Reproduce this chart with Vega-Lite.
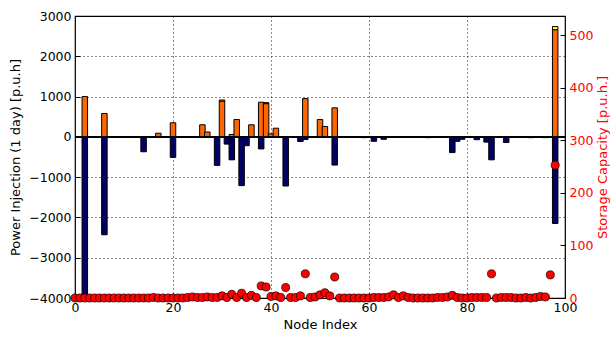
{
  "$schema": "https://vega.github.io/schema/vega-lite/v6.json",
  "width": 490,
  "height": 282,
  "autosize": "none",
  "padding": {"left": 75, "top": 16, "right": 45, "bottom": 39},
  "config": {
    "font": "DejaVu Sans",
    "view": {"stroke": "black", "strokeWidth": 1.2},
    "axis": {
      "domain": false,
      "labelFontSize": 12.5,
      "labelColor": "black",
      "titleFontSize": 13,
      "titleFontWeight": "normal",
      "titleColor": "black",
      "tickColor": "black",
      "tickSize": -5,
      "gridColor": "black",
      "gridDash": [1, 3],
      "gridOpacity": 0.9
    }
  },
  "datasets": {
    "bars": [
      {"node": 2, "kind": "Generation", "value": 1000},
      {"node": 6, "kind": "Generation", "value": 580},
      {"node": 17, "kind": "Generation", "value": 90},
      {"node": 20, "kind": "Generation", "value": 350},
      {"node": 26, "kind": "Generation", "value": 300},
      {"node": 27, "kind": "Generation", "value": 120},
      {"node": 30, "kind": "Generation", "value": 890},
      {"node": 30, "kind": "Surplus", "value": 25},
      {"node": 32, "kind": "Generation", "value": 60},
      {"node": 33, "kind": "Generation", "value": 430},
      {"node": 36, "kind": "Generation", "value": 300},
      {"node": 38, "kind": "Generation", "value": 860},
      {"node": 39, "kind": "Generation", "value": 825},
      {"node": 39, "kind": "Surplus", "value": 25},
      {"node": 40, "kind": "Generation", "value": 75},
      {"node": 41, "kind": "Generation", "value": 215},
      {"node": 47, "kind": "Generation", "value": 950},
      {"node": 50, "kind": "Generation", "value": 430},
      {"node": 51, "kind": "Generation", "value": 257},
      {"node": 53, "kind": "Generation", "value": 720},
      {"node": 98, "kind": "Generation", "value": 2660},
      {"node": 98, "kind": "Surplus", "value": 80},
      {"node": 2, "kind": "Load", "value": -3950},
      {"node": 6, "kind": "Load", "value": -2430},
      {"node": 14, "kind": "Load", "value": -370},
      {"node": 20, "kind": "Load", "value": -510},
      {"node": 29, "kind": "Load", "value": -708},
      {"node": 31, "kind": "Load", "value": -180},
      {"node": 32, "kind": "Load", "value": -570},
      {"node": 34, "kind": "Load", "value": -1210},
      {"node": 35, "kind": "Load", "value": -220},
      {"node": 38, "kind": "Load", "value": -300},
      {"node": 43, "kind": "Load", "value": -1220},
      {"node": 46, "kind": "Load", "value": -115},
      {"node": 47, "kind": "Load", "value": -65},
      {"node": 53, "kind": "Load", "value": -700},
      {"node": 59, "kind": "Load", "value": -20},
      {"node": 61, "kind": "Load", "value": -110},
      {"node": 63, "kind": "Load", "value": -60},
      {"node": 72, "kind": "Load", "value": -20},
      {"node": 77, "kind": "Load", "value": -390},
      {"node": 78, "kind": "Load", "value": -110},
      {"node": 79, "kind": "Load", "value": -60},
      {"node": 82, "kind": "Load", "value": -70},
      {"node": 84, "kind": "Load", "value": -130},
      {"node": 85, "kind": "Load", "value": -570},
      {"node": 88, "kind": "Load", "value": -140},
      {"node": 93, "kind": "Load", "value": -20},
      {"node": 96, "kind": "Load", "value": -20},
      {"node": 98, "kind": "Load", "value": -2150}
    ],
    "store": [
      {"node": 0, "cap": 0}, {"node": 1, "cap": 0}, {"node": 2, "cap": 0}, {"node": 3, "cap": 0},
      {"node": 4, "cap": 0}, {"node": 5, "cap": 0}, {"node": 6, "cap": 0}, {"node": 7, "cap": 0},
      {"node": 8, "cap": 0}, {"node": 9, "cap": 0}, {"node": 10, "cap": 0}, {"node": 11, "cap": 0},
      {"node": 12, "cap": 0}, {"node": 13, "cap": 0}, {"node": 14, "cap": 0}, {"node": 15, "cap": 0},
      {"node": 16, "cap": 1}, {"node": 17, "cap": 0}, {"node": 18, "cap": 0}, {"node": 19, "cap": 0},
      {"node": 20, "cap": 0}, {"node": 21, "cap": 0}, {"node": 22, "cap": 0}, {"node": 23, "cap": 1},
      {"node": 24, "cap": 2}, {"node": 25, "cap": 1}, {"node": 26, "cap": 1}, {"node": 27, "cap": 2},
      {"node": 28, "cap": 1}, {"node": 29, "cap": 1}, {"node": 30, "cap": 4}, {"node": 31, "cap": 1},
      {"node": 32, "cap": 7}, {"node": 33, "cap": 1}, {"node": 34, "cap": 9}, {"node": 35, "cap": 1},
      {"node": 36, "cap": 5}, {"node": 37, "cap": 1}, {"node": 38, "cap": 23}, {"node": 39, "cap": 21},
      {"node": 40, "cap": 3}, {"node": 41, "cap": 4}, {"node": 42, "cap": 1}, {"node": 43, "cap": 20},
      {"node": 44, "cap": 1}, {"node": 45, "cap": 1}, {"node": 46, "cap": 4}, {"node": 47, "cap": 46},
      {"node": 48, "cap": 1}, {"node": 49, "cap": 2}, {"node": 50, "cap": 6}, {"node": 51, "cap": 10},
      {"node": 52, "cap": 4}, {"node": 53, "cap": 40}, {"node": 54, "cap": 0}, {"node": 55, "cap": 0},
      {"node": 56, "cap": 0}, {"node": 57, "cap": 0}, {"node": 58, "cap": 0}, {"node": 59, "cap": 0},
      {"node": 60, "cap": 0}, {"node": 61, "cap": 1}, {"node": 62, "cap": 1}, {"node": 63, "cap": 1},
      {"node": 64, "cap": 2}, {"node": 65, "cap": 6}, {"node": 66, "cap": 1}, {"node": 67, "cap": 4},
      {"node": 68, "cap": 1}, {"node": 69, "cap": 0}, {"node": 70, "cap": 0}, {"node": 71, "cap": 0},
      {"node": 72, "cap": 0}, {"node": 73, "cap": 0}, {"node": 74, "cap": 1}, {"node": 75, "cap": 1},
      {"node": 76, "cap": 2}, {"node": 77, "cap": 5}, {"node": 78, "cap": 1}, {"node": 79, "cap": 0},
      {"node": 80, "cap": 0}, {"node": 81, "cap": 1}, {"node": 82, "cap": 1}, {"node": 83, "cap": 1},
      {"node": 84, "cap": 1}, {"node": 85, "cap": 46}, {"node": 86, "cap": 0}, {"node": 87, "cap": 1},
      {"node": 88, "cap": 1}, {"node": 89, "cap": 1}, {"node": 90, "cap": 0}, {"node": 91, "cap": 0},
      {"node": 92, "cap": 1}, {"node": 93, "cap": 0}, {"node": 94, "cap": 1}, {"node": 95, "cap": 3},
      {"node": 96, "cap": 2}, {"node": 97, "cap": 44}, {"node": 98, "cap": 253}
    ]
  },
  "layer": [
    {
      "data": {"name": "bars"},
      "layer": [
        {
          "mark": {"type": "bar", "size": 5.5, "stroke": "black", "strokeWidth": 1},
          "encoding": {
            "x": {
              "field": "node", "type": "quantitative",
              "scale": {"domain": [0, 100], "nice": false, "padding": 0},
              "axis": {"values": [0, 20, 40, 60, 80, 100], "title": "Node Index", "grid": true, "labelFlush": false, "labelPadding": 8, "titlePadding": 5}
            },
            "y": {
              "field": "value", "type": "quantitative", "stack": "zero",
              "scale": {"domain": [-4000, 3000], "nice": false},
              "axis": {"values": [-4000, -3000, -2000, -1000, 0, 1000, 2000, 3000], "format": "d", "title": "Power Injection (1 day) [p.u.h]", "grid": true, "labelPadding": 9, "titlePadding": 6}
            },
            "color": {
              "field": "kind", "type": "nominal",
              "scale": {"domain": ["Generation", "Surplus", "Load"], "range": ["#ff6600", "#ffff00", "#000066"]},
              "legend": null
            },
            "order": {"field": "kind", "sort": "ascending"}
          }
        },
        {
          "mark": {"type": "rule", "color": "black", "strokeWidth": 1.5},
          "encoding": {"y": {"datum": 0}}
        }
      ]
    },
    {
      "data": {"name": "store"},
      "mark": {"type": "circle", "size": 65, "color": "#ff0000", "opacity": 1, "stroke": "black", "strokeWidth": 0.7},
      "encoding": {
        "x": {"field": "node", "type": "quantitative"},
        "y": {
          "field": "cap", "type": "quantitative",
          "scale": {"domain": [0, 537], "nice": false},
          "axis": {"orient": "right", "values": [0, 100, 200, 300, 400, 500], "title": "Storage Capacity [p.u.h.]", "titleAngle": 270, "labelColor": "#ff0000", "titleColor": "#ff0000", "grid": false, "labelPadding": 9, "titlePadding": 17}
        }
      }
    }
  ],
  "resolve": {"scale": {"y": "independent"}}
}
